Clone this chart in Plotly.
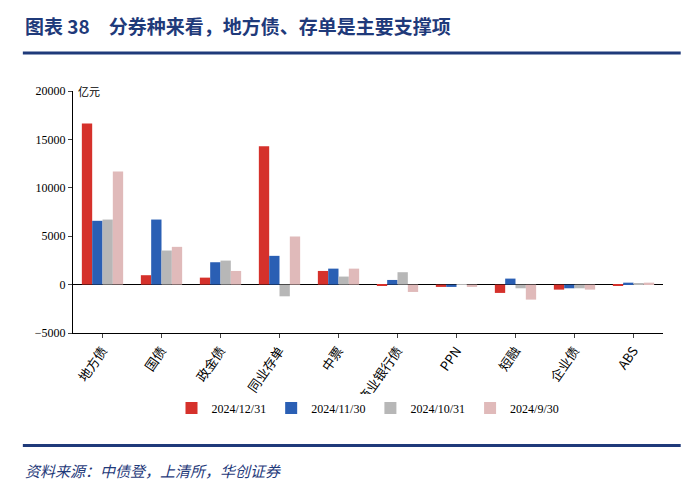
import plotly.graph_objects as go

categories = ["地方债", "国债", "政金债", "同业存单", "中票", "商业银行债", "PPN", "短融", "企业债", "ABS"]
s_1231 = [16650, 970, 720, 14280, 1410, -140, -240, -860, -520, -100]
s_1130 = [6590, 6720, 2310, 2970, 1650, 480, -240, 620, -380, 200]
s_1031 = [6720, 3520, 2480, -1210, 830, 1280, -30, -380, -380, 140]
s_0930 = [11690, 3900, 1410, 4970, 1650, -760, -240, -1550, -520, 200]
names = ["2024/12/31", "2024/11/30", "2024/10/31", "2024/9/30"]
colors = ["#D5312B", "#2A5FB4", "#B7B7B7", "#E0BABA"]

fig = go.Figure()
for n, s, c in zip(names, [s_1231, s_1130, s_1031, s_0930], colors):
    fig.add_bar(x=categories, y=s, name=n, marker_color=c, marker_line_width=0)

ser = "Liberation Serif, Noto Sans CJK SC"
fig.update_layout(
    width=690, height=484, plot_bgcolor="white", paper_bgcolor="white",
    margin=dict(l=65, r=35, t=83, b=159),
    barmode="group", bargap=0.3, bargroupgap=0,
    font=dict(family=ser, size=12, color="#000"),
    legend=dict(orientation="h", x=0.5, xanchor="center", y=-0.31, yanchor="middle",
                font=dict(size=12), itemwidth=30, tracegroupgap=0),
    xaxis=dict(showline=True, linecolor="#000", ticks="outside", ticklen=4, tickangle=-55,
               showgrid=False, tickfont=dict(size=13, family="Noto Sans CJK SC, Liberation Serif")),
    yaxis=dict(range=[-5000, 20000], dtick=5000, tickformat="d", showline=True, linecolor="#000",
               ticks="outside", ticklen=4, showgrid=False, zeroline=True,
               zerolinecolor="#000", zerolinewidth=1, tickfont=dict(size=12)),
    shapes=[
        dict(type="line", xref="paper", yref="paper", x0=-0.085, x1=1.03, y0=1.157, y1=1.157,
             line=dict(color="#1F3A7A", width=3)),
        dict(type="line", xref="paper", yref="paper", x0=-0.085, x1=1.03, y0=-0.465, y1=-0.465,
             line=dict(color="#1F3A7A", width=3)),
    ],
    annotations=[
        dict(text="<b>图表 38　分券种来看，地方债、存单是主要支撑项</b>", xref="paper", yref="paper",
             x=-0.085, y=1.27, xanchor="left", yanchor="middle", showarrow=False,
             font=dict(size=19, color="#1F3A7A", family="Noto Sans CJK SC")),
        dict(text="亿元", xref="paper", yref="paper", x=0.005, y=1.0, xanchor="left", yanchor="middle",
             showarrow=False, font=dict(size=11, family="Noto Sans CJK SC")),
        dict(text="<i>资料来源：中债登，上清所，华创证券</i>", xref="paper", yref="paper",
             x=-0.085, y=-0.57, xanchor="left", yanchor="middle", showarrow=False,
             font=dict(size=15, color="#1F3A7A", family="Noto Sans CJK SC")),
    ],
)
fig.write_html("out.html")
